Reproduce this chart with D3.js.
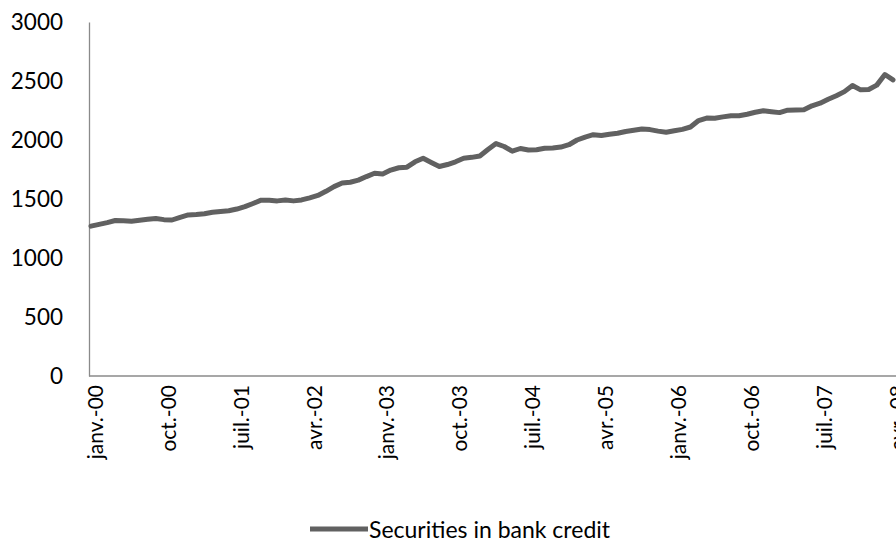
<!DOCTYPE html>
<html>
<head>
<meta charset="utf-8">
<script src="https://cdn.jsdelivr.net/npm/d3@7"></script>
<style>
  html, body { margin: 0; padding: 0; background: #fff; }
  svg { display: block; }
  text { font-family: Lato, "Open Sans", sans-serif; fill: #000; }
</style>
</head>
<body>
<svg id="chart" width="896" height="544"></svg>
<script>
// Monthly securities in bank credit, janv. 2000 – avr. 2008
const startYear = 2000;
const monthNames = ["janv.", "févr.", "mars", "avr.", "mai", "juin", "juil.", "août", "sept.", "oct.", "nov.", "déc."];
const securities = [
  1270, 1285, 1300, 1318, 1315, 1312, 1320, 1328, 1335, 1325,
  1322, 1345, 1365, 1368, 1375, 1388, 1395, 1400, 1415, 1435,
  1462, 1490, 1490, 1484, 1492, 1484, 1492, 1510, 1530, 1565,
  1605, 1635, 1642, 1660, 1690, 1718, 1712, 1745, 1765, 1770,
  1815, 1845, 1810, 1775, 1792, 1815, 1845, 1853, 1865, 1920,
  1970, 1945, 1905, 1928, 1915, 1918, 1930, 1932, 1940, 1960,
  2000, 2025, 2045, 2038, 2048, 2057, 2072, 2082, 2093, 2088,
  2075, 2065, 2078, 2090, 2110, 2165, 2186, 2185, 2196, 2205,
  2205, 2218, 2235, 2248, 2240, 2232, 2253, 2254, 2256, 2290,
  2312, 2345, 2375, 2410, 2462, 2425, 2428, 2465, 2555, 2510
];
const yTicks = [0, 500, 1000, 1500, 2000, 2500, 3000];
const labelEvery = 9;
const seriesName = "Securities in bank credit";

const months = securities.map((_, i) => {
  const m = i % 12;
  const y = startYear + Math.floor(i / 12);
  return monthNames[m] + "-" + String(y % 100).padStart(2, "0");
});

const svg = d3.select("#chart");
const plot = { left: 91, right: 893, top: 22, bottom: 376 };

const x = d3.scalePoint()
  .domain(d3.range(securities.length))
  .range([plot.left, plot.right]);

const y = d3.scaleLinear()
  .domain([0, 3000])
  .range([plot.bottom, plot.top]);

// Y axis
const yAxis = svg.append("g")
  .attr("transform", `translate(${plot.left - 2},0)`)
  .call(d3.axisLeft(y).tickValues(yTicks).tickFormat(d3.format("d")).tickSize(0).tickPadding(26));
yAxis.select(".domain").attr("stroke", "#8a8a8a").attr("stroke-width", 1.3);
yAxis.selectAll("text")
  .style("font-size", "22.5px")
  .style("font-family", "Lato, sans-serif")
  .attr("fill", "#000");

// X axis
const xAxis = svg.append("g")
  .attr("transform", `translate(0,${plot.bottom})`)
  .call(d3.axisBottom(x)
    .tickValues(d3.range(0, securities.length, labelEvery))
    .tickFormat(i => months[i])
    .tickSize(0));
xAxis.select(".domain")
  .attr("d", `M${plot.left - 2},0H896`)
  .attr("stroke", "#8a8a8a").attr("stroke-width", 1.3);
xAxis.selectAll("text")
  .style("font-size", "21px")
  .style("font-family", "Lato, sans-serif")
  .attr("fill", "#000")
  .attr("text-anchor", "end")
  .attr("transform", "rotate(-90)")
  .attr("x", -9)
  .attr("y", 0)
  .attr("dy", "0.35em")
  .attr("dx", 0);
xAxis.selectAll(".tick").attr("transform", function () {
  const t = d3.select(this).attr("transform");
  const tx = +t.match(/translate\(([-\d.]+)/)[1];
  return `translate(${tx + 4},0)`;
});

// Series line
const line = d3.line()
  .x((d, i) => x(i))
  .y(d => y(d));

svg.append("path")
  .datum(securities)
  .attr("fill", "none")
  .attr("stroke", "#616161")
  .attr("stroke-width", 5)
  .attr("stroke-linejoin", "round")
  .attr("stroke-linecap", "round")
  .attr("d", line);

// Legend
const legend = svg.append("g").attr("transform", "translate(310,529)");
legend.append("line")
  .attr("x1", 0).attr("x2", 58)
  .attr("y1", 0).attr("y2", 0)
  .attr("stroke", "#616161")
  .attr("stroke-width", 5);
legend.append("text")
  .attr("x", 59)
  .attr("y", 1)
  .attr("dy", "0.35em")
  .style("font-size", "23px")
  .text(seriesName);
</script>
</body>
</html>
